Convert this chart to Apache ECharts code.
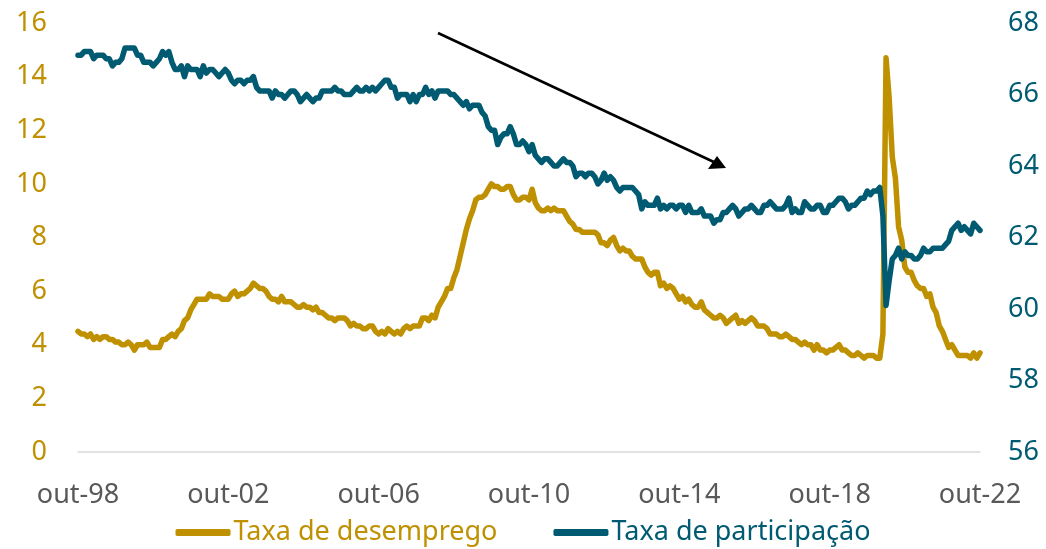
<!DOCTYPE html>
<html>
<head>
<meta charset="utf-8">
<script src="https://cdn.jsdelivr.net/npm/echarts@6/dist/echarts.min.js"></script>
<style>
  html, body { margin: 0; padding: 0; background: #fff; }
  #chart { width: 1046px; height: 549px; }
</style>
</head>
<body>
<div id="chart"></div>
<script>
  // meses de out-98 a out-22
  const meses = ['jan', 'fev', 'mar', 'abr', 'mai', 'jun', 'jul', 'ago', 'set', 'out', 'nov', 'dez']
  const categorias = []
  for (let i = 0; i < 289; i++) {
    const m = (9 + i) % 12
    const a = 1998 + Math.floor((9 + i) / 12)
    categorias.push(meses[m] + '-' + String(a).slice(2))
  }

  // Taxa de desemprego (%), eixo esquerdo
  const desemprego = [
    4.5, 4.4, 4.4,
    4.3, 4.4, 4.2, 4.3, 4.2, 4.3, 4.3, 4.2, 4.2, 4.1, 4.1, 4.0,
    4.0, 4.1, 4.0, 3.8, 4.0, 4.0, 4.0, 4.1, 3.9, 3.9, 3.9, 3.9,
    4.2, 4.2, 4.3, 4.4, 4.3, 4.5, 4.6, 4.9, 5.0, 5.3, 5.5, 5.7,
    5.7, 5.7, 5.7, 5.9, 5.8, 5.8, 5.8, 5.7, 5.7, 5.7, 5.9, 6.0,
    5.8, 5.9, 5.9, 6.0, 6.1, 6.3, 6.2, 6.1, 6.1, 6.0, 5.8, 5.7,
    5.7, 5.6, 5.8, 5.6, 5.6, 5.6, 5.5, 5.4, 5.4, 5.5, 5.4, 5.4,
    5.3, 5.4, 5.2, 5.2, 5.1, 5.0, 5.0, 4.9, 5.0, 5.0, 5.0, 4.9,
    4.7, 4.8, 4.7, 4.7, 4.6, 4.6, 4.7, 4.7, 4.5, 4.4, 4.5, 4.4,
    4.6, 4.5, 4.4, 4.5, 4.4, 4.6, 4.7, 4.6, 4.7, 4.7, 4.7, 5.0,
    5.0, 4.9, 5.1, 5.0, 5.4, 5.6, 5.8, 6.1, 6.1, 6.5, 6.8, 7.3,
    7.8, 8.3, 8.7, 9.0, 9.4, 9.5, 9.5, 9.6, 9.8, 10.0, 9.9, 9.9,
    9.8, 9.8, 9.9, 9.9, 9.6, 9.4, 9.4, 9.5, 9.5, 9.4, 9.8, 9.3,
    9.1, 9.0, 9.0, 9.1, 9.0, 9.1, 9.0, 9.0, 9.0, 8.8, 8.6, 8.5,
    8.3, 8.3, 8.2, 8.2, 8.2, 8.2, 8.2, 8.1, 7.8, 7.8, 7.7, 7.9,
    8.0, 7.7, 7.5, 7.6, 7.5, 7.5, 7.3, 7.2, 7.2, 7.2, 6.9, 6.7,
    6.6, 6.7, 6.7, 6.2, 6.3, 6.1, 6.2, 6.1, 5.9, 5.7, 5.8, 5.6,
    5.7, 5.5, 5.4, 5.4, 5.6, 5.3, 5.2, 5.1, 5.0, 5.0, 5.1, 5.0,
    4.8, 4.9, 5.0, 5.1, 4.8, 4.9, 4.8, 4.9, 5.0, 4.9, 4.7, 4.7,
    4.7, 4.6, 4.4, 4.4, 4.4, 4.3, 4.3, 4.4, 4.3, 4.2, 4.2, 4.1,
    4.0, 4.1, 4.0, 4.0, 3.8, 4.0, 3.8, 3.8, 3.7, 3.8, 3.8, 3.9,
    4.0, 3.8, 3.8, 3.7, 3.6, 3.6, 3.7, 3.6, 3.5, 3.6, 3.6, 3.6,
    3.5, 3.5, 4.4, 14.7, 13.2, 11.0, 10.2, 8.4, 7.9, 6.9, 6.7, 6.7,
    6.4, 6.2, 6.1, 6.1, 5.8, 5.9, 5.4, 5.2, 4.7, 4.5, 4.2, 3.9,
    4.0, 3.8, 3.6, 3.6, 3.6, 3.6, 3.5, 3.7, 3.5, 3.7
  ]

  // Taxa de participação (%), eixo direito
  const participacao = [
    67.1, 67.1, 67.2,
    67.2, 67.2, 67.0, 67.1, 67.1, 67.1, 67.0, 67.0, 66.8, 66.9, 66.9, 67.0,
    67.3, 67.3, 67.3, 67.3, 67.1, 67.1, 66.9, 66.9, 66.9, 66.8, 66.9, 67.0,
    67.2, 67.1, 67.2, 66.9, 66.7, 66.7, 66.8, 66.5, 66.8, 66.7, 66.7, 66.7,
    66.5, 66.8, 66.6, 66.7, 66.7, 66.6, 66.5, 66.6, 66.7, 66.6, 66.4, 66.3,
    66.4, 66.4, 66.3, 66.4, 66.4, 66.5, 66.2, 66.1, 66.1, 66.1, 66.1, 65.9,
    66.1, 66.0, 66.0, 65.9, 66.0, 66.1, 66.1, 66.0, 65.8, 65.9, 66.0, 65.9,
    65.8, 65.9, 65.9, 66.1, 66.1, 66.1, 66.1, 66.2, 66.1, 66.1, 66.0, 66.0,
    66.0, 66.1, 66.2, 66.1, 66.1, 66.2, 66.1, 66.2, 66.1, 66.2, 66.3, 66.4,
    66.4, 66.2, 66.2, 65.9, 66.0, 66.0, 66.0, 65.8, 66.0, 65.8, 66.0, 66.0,
    66.2, 66.0, 66.1, 65.9, 66.1, 66.1, 66.1, 66.1, 66.0, 66.0, 65.9, 65.8,
    65.7, 65.8, 65.6, 65.7, 65.7, 65.7, 65.5, 65.4, 65.1, 65.0, 65.0, 64.6,
    64.8, 64.9, 64.9, 65.1, 64.9, 64.6, 64.6, 64.7, 64.6, 64.4, 64.6, 64.3,
    64.2, 64.1, 64.2, 64.2, 64.1, 64.0, 64.0, 64.1, 64.2, 64.1, 64.1, 64.0,
    63.7, 63.8, 63.8, 63.7, 63.8, 63.8, 63.7, 63.5, 63.6, 63.8, 63.6, 63.7,
    63.6, 63.4, 63.3, 63.4, 63.4, 63.4, 63.4, 63.3, 63.2, 62.8, 63.0, 62.9,
    62.9, 62.9, 63.1, 62.8, 62.9, 62.8, 62.9, 62.9, 62.8, 62.9, 62.9, 62.7,
    62.9, 62.7, 62.7, 62.7, 62.8, 62.6, 62.6, 62.6, 62.4, 62.5, 62.5, 62.7,
    62.7, 62.8, 62.9, 62.8, 62.6, 62.7, 62.8, 62.8, 62.9, 62.8, 62.7, 62.7,
    62.9, 62.9, 63.0, 62.9, 62.8, 62.8, 62.8, 62.9, 63.1, 62.7, 62.8, 62.7,
    62.7, 63.0, 62.9, 62.8, 62.8, 62.9, 62.9, 62.7, 62.7, 62.9, 62.9, 63.0,
    63.1, 63.1, 63.0, 62.8, 62.9, 62.9, 63.0, 63.1, 63.1, 63.3, 63.2, 63.3,
    63.3, 63.4, 62.6, 60.1, 60.8, 61.4, 61.5, 61.7, 61.4, 61.6, 61.5, 61.5,
    61.4, 61.4, 61.5, 61.7, 61.6, 61.6, 61.7, 61.7, 61.7, 61.7, 61.8, 61.9,
    62.2, 62.3, 62.4, 62.2, 62.3, 62.2, 62.1, 62.4, 62.3, 62.2
  ]

  const ouro = '#BF9000'
  const azul = '#005B72'
  const fonte = '"Noto Sans", sans-serif'

  const chart = echarts.init(document.getElementById('chart'))
  chart.setOption({
    animation: false,
    textStyle: { fontFamily: fonte },
    grid: { left: 78, right: 66, top: 23, bottom: 97 },
    legend: {
      top: 514,
      left: 'center',
      icon: 'roundRect',
      itemWidth: 55,
      itemHeight: 7,
      itemGap: 56,
      textStyle: { fontSize: 27, fontFamily: fonte, padding: [0, 0, 0, -2] },
      data: [
        { name: 'Taxa de desemprego', textStyle: { color: ouro } },
        { name: 'Taxa de participação', textStyle: { color: azul } }
      ]
    },
    xAxis: {
      type: 'category',
      data: categorias,
      boundaryGap: false,
      axisLine: { lineStyle: { color: '#D9D9D9', width: 1.5 } },
      axisTick: { show: false },
      axisLabel: {
        interval: (i) => i % 48 === 0,
        color: '#595959',
        fontSize: 27,
        margin: 30,
        fontFamily: fonte
      },
      splitLine: { show: false }
    },
    yAxis: [
      {
        type: 'value',
        min: 0,
        max: 16,
        interval: 2,
        axisLine: { show: false },
        axisTick: { show: false },
        splitLine: { show: false },
        axisLabel: { color: ouro, fontSize: 27, margin: 31, fontFamily: fonte }
      },
      {
        type: 'value',
        min: 56,
        max: 68,
        interval: 2,
        position: 'right',
        axisLine: { show: false },
        axisTick: { show: false },
        splitLine: { show: false },
        axisLabel: { color: azul, fontSize: 27, margin: 28, fontFamily: fonte }
      }
    ],
    graphic: [
      {
        type: 'line',
        shape: { x1: 438, y1: 33, x2: 716, y2: 163 },
        style: { stroke: '#000', lineWidth: 2.5 }
      },
      {
        type: 'polygon',
        shape: { points: [[726, 168], [708, 169], [717, 156]] },
        style: { fill: '#000' }
      }
    ],
    series: [
      {
        name: 'Taxa de desemprego',
        type: 'line',
        yAxisIndex: 0,
        data: desemprego,
        showSymbol: false,
        symbol: 'none',
        lineStyle: { color: ouro, width: 5.5, cap: 'round', join: 'round' },
        itemStyle: { color: ouro }
      },
      {
        name: 'Taxa de participação',
        type: 'line',
        yAxisIndex: 1,
        data: participacao,
        showSymbol: false,
        symbol: 'none',
        lineStyle: { color: azul, width: 5.5, cap: 'round', join: 'round' },
        itemStyle: { color: azul }
      }
    ]
  })
</script>
</body>
</html>
